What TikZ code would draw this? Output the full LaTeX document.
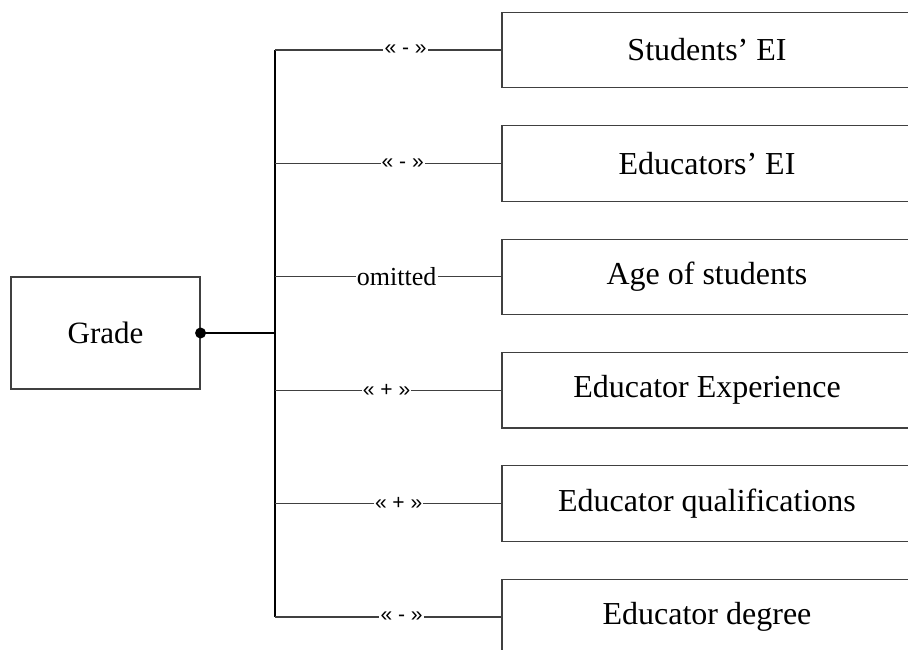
\documentclass[tikz,border=0pt]{standalone}
\usepackage{fontspec}
\setmainfont{Liberation Serif}
\newfontfamily\lblsans{Liberation Sans}
\begin{document}
\begin{tikzpicture}[x=1pt,y=-1pt,
  conn/.style={line width=1.1pt, draw=black!75},
  rbox/.style={draw=black!75, line width=1.1pt, minimum width=410pt, minimum height=75.5pt, inner sep=0pt, font=\fontsize{32}{36}\selectfont},
  gbox/.style={draw=black!75, line width=1.1pt, minimum width=189pt, minimum height=112pt, inner sep=0pt, font=\fontsize{31}{36}\selectfont},
  sgn/.style={fill=white, inner sep=1.2pt, font=\lblsans\fontsize{21}{24}\selectfont},
  omt/.style={fill=white, inner sep=1.2pt, font=\fontsize{26}{30}\selectfont}
]
\useasboundingbox (0,0) rectangle (908,650);
\clip (0,0) rectangle (908,650);
\node[gbox] (grade) at (105.5,333) {Grade};
\node[rbox] (b1) at (707,50) {Students’ EI};
\node[rbox] (b2) at (707,163.4) {Educators’ EI};
\node[rbox] (b3) at (707,276.8) {Age of students};
\node[rbox] (b4) at (707,390.2) {Educator Experience};
\node[rbox] (b5) at (707,503.6) {Educator qualifications};
\node[rbox] (b6) at (707,617) {Educator degree};
\coordinate (t0) at (275,333);
\coordinate (t1) at (275,50);
\coordinate (t2) at (275,163.4);
\coordinate (t3) at (275,276.8);
\coordinate (t4) at (275,390.2);
\coordinate (t5) at (275,503.6);
\coordinate (t6) at (275,617);
\draw[conn, draw=black] (t1) -- (t6);
\draw[conn, draw=black] (grade.east) -- (t0);
\fill[black] (grade.east) circle (5.5);
\draw[conn] (t1) -- node[sgn, pos=0.577] {« - »} (b1.west);
\draw[conn] (t2) -- node[sgn, pos=0.564] {« - »} (b2.west);
\draw[conn] (t3) -- node[omt, pos=0.537] {omitted} (b3.west);
\draw[conn] (t4) -- node[sgn, pos=0.493] {« + »} (b4.west);
\draw[conn] (t5) -- node[sgn, pos=0.546] {« + »} (b5.west);
\draw[conn] (t6) -- node[sgn, pos=0.559] {« - »} (b6.west);
\end{tikzpicture}
\end{document}
